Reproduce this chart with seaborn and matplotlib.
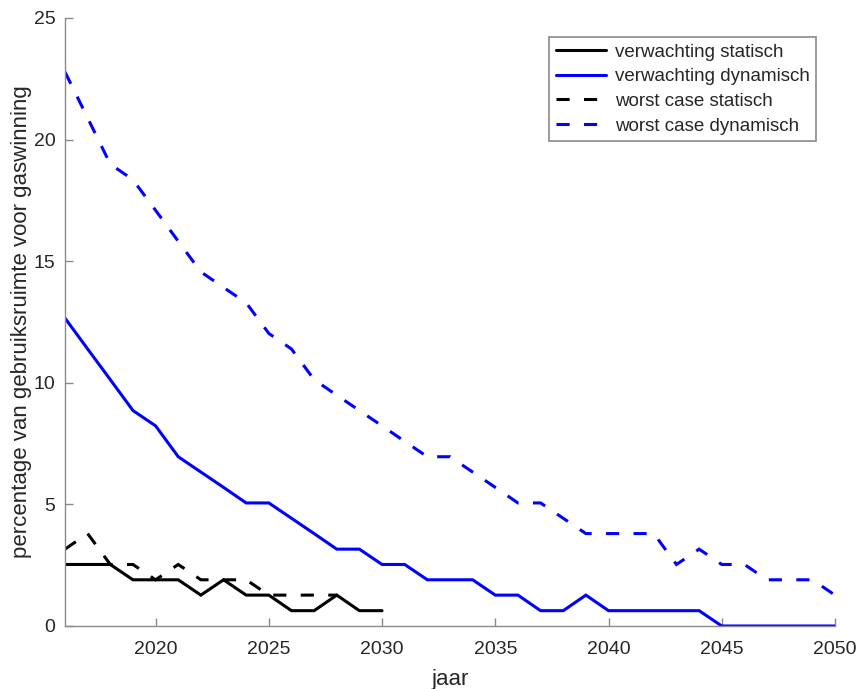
import matplotlib
matplotlib.use("Agg")
import matplotlib.pyplot as plt
import seaborn as sns
import pandas as pd
import numpy as np

# ---- data ----
years_stat = list(range(2016, 2031))
verwachting_statisch = [2.53, 2.53, 2.53, 1.90, 1.90, 1.90, 1.27, 1.90, 1.27, 1.27,
                        0.63, 0.63, 1.27, 0.63, 0.63]

years_wc_stat = list(range(2016, 2029))
worst_case_statisch = [3.16, 3.80, 2.53, 2.53, 1.90, 2.53, 1.90, 1.90, 1.90, 1.27,
                       1.27, 1.27, 1.27]

years_dyn = list(range(2016, 2051))
verwachting_dynamisch = [12.66, 11.39, 10.13, 8.86, 8.23, 6.96, 6.33, 5.70, 5.06, 5.06,
                         4.43, 3.80, 3.16, 3.16, 2.53, 2.53, 1.90, 1.90, 1.90, 1.27,
                         1.27, 0.63, 0.63, 1.27, 0.63, 0.63, 0.63, 0.63, 0.63, 0.00,
                         0.00, 0.00, 0.00, 0.00, 0.00]
worst_case_dynamisch = [22.78, 20.89, 18.99, 18.35, 17.09, 15.82, 14.56, 13.92, 13.29, 12.03,
                        11.39, 10.13, 9.49, 8.86, 8.23, 7.59, 6.96, 6.96, 6.33, 5.70,
                        5.06, 5.06, 4.43, 3.80, 3.80, 3.80, 3.80, 2.53, 3.16, 2.53,
                        2.53, 1.90, 1.90, 1.90, 1.27]

labels = ["verwachting statisch", "verwachting dynamisch",
          "worst case statisch", "worst case dynamisch"]
x_ticks = [2020, 2025, 2030, 2035, 2040, 2045, 2050]
y_ticks = [0, 5, 10, 15, 20, 25]

sns.set_style("white")
plt.rcParams['font.family'] = ['Liberation Sans', 'DejaVu Sans']

fig = plt.figure(figsize=(8.59, 6.89), dpi=100)
ax = fig.add_axes([65/859, 63/689, 770/859, 608/689])

axis_grey = "#8a8a8a"
text_col = "#262626"
lw = 2.2
dash = (4.3, 4.7)

series = [
    (years_stat, verwachting_statisch, labels[0], "black", None),
    (years_dyn, verwachting_dynamisch, labels[1], "#0000ff", None),
    (years_wc_stat, worst_case_statisch, labels[2], "black", dash),
    (years_dyn, worst_case_dynamisch, labels[3], "#0000ff", dash),
]
for xs, ys, lab, col, ds in series:
    df = pd.DataFrame({"jaar": xs, "waarde": ys})
    sns.lineplot(data=df, x="jaar", y="waarde", ax=ax, color=col, lw=lw,
                 label=lab, legend=False)
    line = ax.lines[-1]
    line.set_solid_joinstyle("miter")
    if ds is not None:
        line.set_dashes(ds)
        line.set_dash_joinstyle("miter")

ax.set_xlim(2016, 2050)
ax.set_ylim(0, 25)
ax.set_xticks(x_ticks)
ax.set_yticks(y_ticks)
ax.tick_params(axis="both", bottom=True, left=True, top=False, right=False,
               direction="in", length=6, width=1.0, color=axis_grey,
               labelcolor=text_col, labelsize=14)
ax.tick_params(axis="x", pad=11)
ax.tick_params(axis="y", pad=7)
for s in ["top", "right"]:
    ax.spines[s].set_visible(False)
for s in ["left", "bottom"]:
    ax.spines[s].set_color(axis_grey)
    ax.spines[s].set_linewidth(1.0)

ax.set_xlabel("jaar", fontsize=16, color=text_col, labelpad=8)
ax.set_ylabel("percentage van gebruiksruimte voor gaswinning", fontsize=16,
              color=text_col, labelpad=1)

leg = ax.legend(loc="upper right", bbox_to_anchor=((816-65)/770, (626-37)/608),
                borderaxespad=0, fontsize=13.5, frameon=True, fancybox=False,
                framealpha=1, edgecolor=axis_grey, handlelength=2.7,
                handletextpad=0.45, labelspacing=0.4, borderpad=0.35)
leg.get_frame().set_linewidth(1.2)
for t in leg.get_texts():
    t.set_color(text_col)

fig.savefig("out.png", dpi=100)
